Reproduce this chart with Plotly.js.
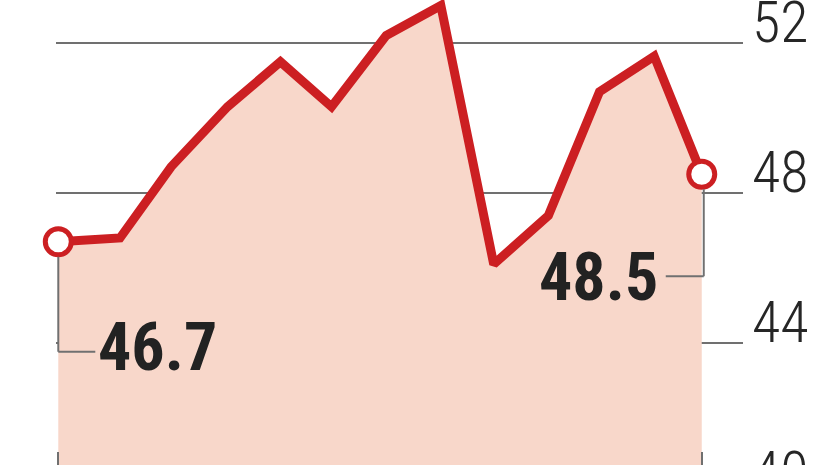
<!DOCTYPE html>
<html>
<head>
<meta charset="utf-8">
<script src="https://cdn.plot.ly/plotly-3.0.1.min.js"></script>
<style>
  html, body { margin: 0; padding: 0; background: #ffffff; }
  #frame { width: 826px; height: 465px; overflow: hidden; }
</style>
</head>
<body>
<div id="frame"><div id="chart"></div></div>
<script>
// days since the first reading, and the index value at each one
const days = [0, 35, 64, 96, 126, 155, 186, 217, 247, 278, 307, 338, 365];
const values = [46.7, 46.8, 48.7, 50.3, 51.5, 50.3, 52.2, 53.0, 46.1, 47.4, 50.7, 51.65, 48.5];
const yTicks = [40, 44, 48, 52];

const RED = '#cc1f22';
const GREY = '#707070';
const narrow = "'Roboto Condensed', 'Liberation Sans Narrow', 'DejaVu Sans Condensed', sans-serif";

const last = days.length - 1;

const area = {
  x: days,
  y: values,
  type: 'scatter',
  mode: 'lines',
  fill: 'tozeroy',
  fillcolor: '#f8d7ca',
  line: { color: RED, width: 9 },
  hoverinfo: 'skip'
};

// open circles on the first and last readings
const ends = {
  x: [days[0], days[last]],
  y: [values[0], values[last]],
  type: 'scatter',
  mode: 'markers',
  cliponaxis: false,
  marker: { size: 26, color: '#ffffff', line: { color: RED, width: 5 } },
  hoverinfo: 'skip'
};

// elbow leader from a point down to its label
function leader(i, drop, dx, xoff) {
  const base = { type: 'line', xref: 'x', yref: 'y', xsizemode: 'pixel', ysizemode: 'pixel',
    xanchor: days[i], yanchor: values[i], line: { color: GREY, width: 2 } };
  return [
    { ...base, x0: xoff, x1: xoff, y0: -15, y1: -drop },
    { ...base, x0: xoff, x1: xoff + dx, y0: -drop, y1: -drop }
  ];
}

const layout = {
  width: 826,
  height: 520,
  margin: { l: 56, r: 83, t: 0, b: 27 },
  paper_bgcolor: '#ffffff',
  plot_bgcolor: '#ffffff',
  showlegend: false,
  xaxis: {
    range: [-1.3, 388.4],
    showgrid: false,
    zeroline: false,
    showticklabels: false,
    tickvals: [days[0], days[last]],
    ticks: 'inside',
    ticklen: 41,
    tickwidth: 2,
    tickcolor: GREY
  },
  yaxis: {
    side: 'right',
    range: [40, 53.147],
    tickvals: yTicks,
    ticktext: yTicks.map(String),
    showgrid: true,
    gridcolor: GREY,
    gridwidth: 2,
    zeroline: false,
    ticks: '',
    ticklabelstandoff: 8,
    ticklabelshift: -21,
    ticklabeloverflow: 'allow',
    tickfont: { family: narrow, size: 58, color: '#262626', weight: 300 }
  },
  shapes: [
    ...leader(0, 110, 37, 0),
    ...leader(last, 102, -38, 2)
  ],
  annotations: [
    {
      x: days[0], y: values[0], xref: 'x', yref: 'y',
      text: values[0].toFixed(1),
      showarrow: false, xanchor: 'left', yanchor: 'middle',
      xshift: 38, yshift: -106,
      font: { family: narrow, size: 66, color: '#222222', weight: 'bold' }
    },
    {
      x: days[last], y: values[last], xref: 'x', yref: 'y',
      text: values[last].toFixed(1),
      showarrow: false, xanchor: 'right', yanchor: 'middle',
      xshift: -42, yshift: -103,
      font: { family: narrow, size: 66, color: '#222222', weight: 'bold' }
    }
  ]
};

Plotly.newPlot('chart', [area, ends], layout, { displayModeBar: false, staticPlot: true });
</script>
</body>
</html>
